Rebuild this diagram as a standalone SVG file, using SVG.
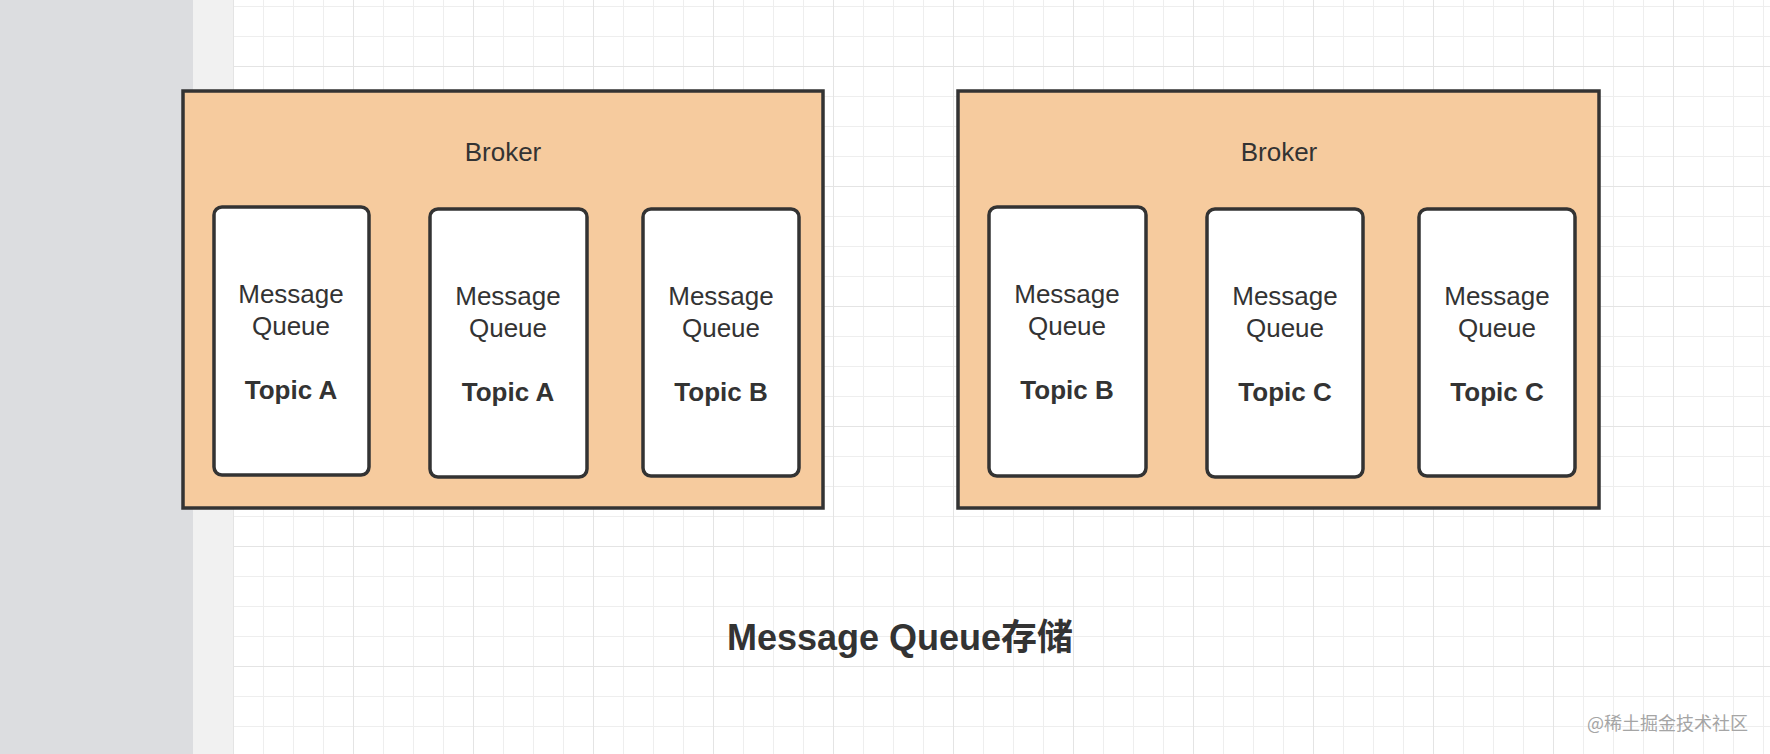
<svg xmlns="http://www.w3.org/2000/svg" width="1770" height="754" viewBox="0 0 1770 754">
<style>
.broker{fill:#F6CB9E;stroke:#333;stroke-width:3.5}
.mq{fill:#fff;stroke:#333;stroke-width:3.5}
.t{font-family:"Liberation Sans","Noto Sans CJK SC",sans-serif;fill:#333;text-anchor:middle}
.n{font-size:26px}
.b{font-size:26px;font-weight:bold}
</style>
<defs>
<pattern id="minor" patternUnits="userSpaceOnUse" x="233" y="6" width="30" height="30">
<path d="M0 0H30M0 0V30" stroke="#eeeeee" stroke-width="2" fill="none"/>
</pattern>
<pattern id="major" patternUnits="userSpaceOnUse" x="233" y="66" width="120" height="120">
<path d="M0 0H120M0 0V120" stroke="#e4e4e4" stroke-width="2" fill="none"/>
</pattern>
</defs>
<g id="background">
<rect x="0" y="0" width="1770" height="754" fill="#ffffff"/>
<rect x="233" y="0" width="1537" height="754" fill="url(#minor)"/>
<rect x="233" y="0" width="1537" height="754" fill="url(#major)"/>
<rect x="0" y="0" width="193" height="754" fill="#dcdde0"/>
<rect x="193" y="0" width="40" height="754" fill="#f1f1f1"/>
</g>
<g id="connectors"></g>
<g id="broker1">
<rect class="broker" x="183" y="91" width="640" height="417"/>
<text class="t n" x="503" y="161">Broker</text>
</g>
<g id="mq1">
<rect class="mq" x="214" y="207" width="155" height="268" rx="8"/>
<text class="t n" x="291" y="303">Message</text>
<text class="t n" x="291" y="335">Queue</text>
<text class="t b" x="291" y="399">Topic A</text>
</g>
<g id="mq2">
<rect class="mq" x="430" y="209" width="157" height="268" rx="8"/>
<text class="t n" x="508" y="305">Message</text>
<text class="t n" x="508" y="337">Queue</text>
<text class="t b" x="508" y="401">Topic A</text>
</g>
<g id="mq3">
<rect class="mq" x="643" y="209" width="156" height="267" rx="8"/>
<text class="t n" x="721" y="305">Message</text>
<text class="t n" x="721" y="337">Queue</text>
<text class="t b" x="721" y="401">Topic B</text>
</g>
<g id="broker2">
<rect class="broker" x="958" y="91" width="641" height="417"/>
<text class="t n" x="1279" y="161">Broker</text>
</g>
<g id="mq4">
<rect class="mq" x="989" y="207" width="157" height="269" rx="8"/>
<text class="t n" x="1067" y="303">Message</text>
<text class="t n" x="1067" y="335">Queue</text>
<text class="t b" x="1067" y="399">Topic B</text>
</g>
<g id="mq5">
<rect class="mq" x="1207" y="209" width="156" height="268" rx="8"/>
<text class="t n" x="1285" y="305">Message</text>
<text class="t n" x="1285" y="337">Queue</text>
<text class="t b" x="1285" y="401">Topic C</text>
</g>
<g id="mq6">
<rect class="mq" x="1419" y="209" width="156" height="267" rx="8"/>
<text class="t n" x="1497" y="305">Message</text>
<text class="t n" x="1497" y="337">Queue</text>
<text class="t b" x="1497" y="401">Topic C</text>
</g>
<g id="title">
<text class="t" x="900" y="650" font-size="36" font-weight="bold">Message Queue存储</text>
</g>
<g id="watermark">
<text x="1748" y="730" font-family="'Noto Sans CJK SC',sans-serif" font-size="18" fill="#a5a5a5" text-anchor="end">@稀土掘金技术社区</text>
</g>
</svg>
